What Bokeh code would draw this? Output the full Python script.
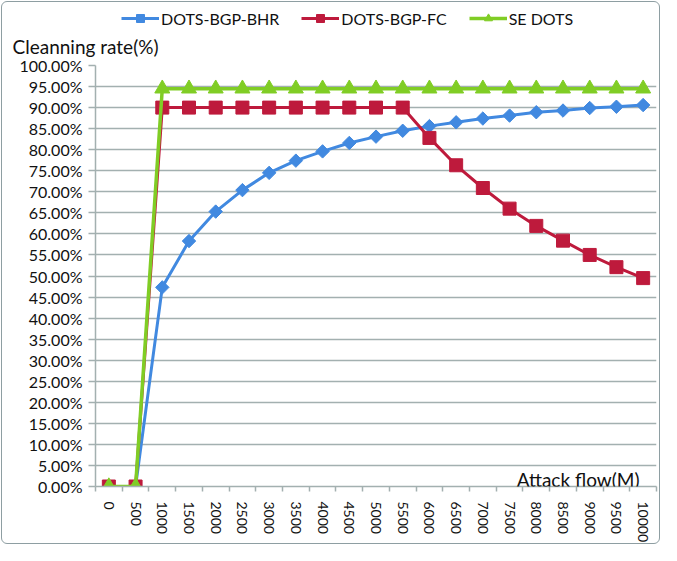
import numpy as np
from bokeh.plotting import figure
from bokeh.layouts import column
from bokeh.models import (ColumnDataSource, FixedTicker, NumeralTickFormatter, Legend,
                          LegendItem, Label, Title, Range1d)
from bokeh.embed import file_html
from bokeh.resources import INLINE

categories = ["0", "500", "1000", "1500", "2000", "2500", "3000", "3500", "4000", "4500",
              "5000", "5500", "6000", "6500", "7000", "7500", "8000", "8500", "9000",
              "9500", "10000"]
bhr = [0.0, 0.0, 0.473, 0.583, 0.653, 0.704, 0.745, 0.774, 0.796, 0.816, 0.831,
       0.845, 0.856, 0.865, 0.874, 0.881, 0.889, 0.893, 0.899, 0.902, 0.906]
fc = [0.0, 0.0, 0.90, 0.90, 0.90, 0.90, 0.90, 0.90, 0.90, 0.90, 0.90, 0.90,
      0.828, 0.763, 0.709, 0.660, 0.619, 0.584, 0.550, 0.521, 0.495]
se = [0.0, 0.0, 0.945, 0.945, 0.945, 0.945, 0.945, 0.945, 0.945, 0.945, 0.945,
      0.945, 0.945, 0.945, 0.945, 0.945, 0.945, 0.945, 0.945, 0.945, 0.945]
series_names = ["DOTS-BGP-BHR", "DOTS-BGP-FC", "SE DOTS"]
y_ticks = [i / 20 for i in range(21)]

FONT = "Lato"
BLUE = "#4189E0"
RED = "#BE1A3C"
GREEN = "#80CD25"
GRID = "#A3B0B0"
TEXT = "#111111"
W = 661
TOP_H = 28
MAIN_H = 517

xs = list(range(len(categories)))
src = ColumnDataSource(dict(x=xs, bhr=bhr, fc=fc, se=se))

styles = [
    dict(line=dict(line_color=BLUE, line_width=3),
         marker=dict(marker="square", angle=np.pi / 4, size=9.5, fill_color=BLUE, line_color=BLUE)),
    dict(line=dict(line_color=RED, line_width=3),
         marker=dict(marker="square", size=13, fill_color=RED, line_color=RED)),
    dict(line=dict(line_color=GREEN, line_width=3.5),
         marker=dict(marker="triangle", size=15, fill_color=GREEN, line_color=GREEN)),
]

# ---------------- legend strip ----------------
top = figure(width=W, height=TOP_H, output_backend="svg", toolbar_location=None,
             x_range=Range1d(0, 1), y_range=Range1d(0, 1),
             x_axis_location=None, y_axis_location=None, min_border=0)
top.grid.visible = False
top.outline_line_color = None
top.border_fill_color = None
top.background_fill_color = None
key_src = ColumnDataSource(dict(x=[np.nan], y=[np.nan]))
items = []
for name, st in zip(series_names, styles):
    lr = top.line("x", "y", source=key_src, **st["line"])
    mr = top.scatter("x", "y", source=key_src, **st["marker"])
    items.append(LegendItem(label=name, renderers=[lr, mr]))
legend = Legend(items=items, orientation="horizontal", location=(26, 0),
                glyph_width=38, glyph_height=20, label_standoff=2, spacing=22,
                padding=0, margin=0, border_line_color=None, background_fill_alpha=0,
                label_text_font=FONT, label_text_font_size="16px",
                label_text_color=TEXT)
top.add_layout(legend)

# ---------------- main chart ----------------
p = figure(width=W, height=MAIN_H, output_backend="svg", toolbar_location=None,
           x_range=Range1d(-0.5, len(categories) - 0.5), y_range=Range1d(0, 1.0),
           min_border_left=95, min_border_right=5, min_border_top=37, min_border_bottom=55)
p.outline_line_color = None
p.background_fill_color = None
p.border_fill_color = None

p.add_layout(Title(text="Cleanning rate(%)", align="left", offset=-83, standoff=12,
                   vertical_align="top", text_font=FONT, text_font_size="19px",
                   text_font_style="normal", text_color=TEXT), "above")

p.xaxis.ticker = FixedTicker(ticks=xs, minor_ticks=[i - 0.5 for i in range(len(categories) + 1)])
p.xaxis.major_label_overrides = {i: c for i, c in enumerate(categories)}
p.xaxis.major_label_orientation = "vertical"
p.xaxis.major_tick_line_color = None
p.xaxis.major_tick_out = 0
p.xaxis.major_tick_in = 0
p.xaxis.minor_tick_out = 5
p.xaxis.minor_tick_in = 0
p.xaxis.minor_tick_line_color = GRID
p.xaxis.minor_tick_line_width = 1.5
p.xaxis.major_label_standoff = 10
p.xaxis.major_label_text_font_size = "14px"

p.yaxis.ticker = FixedTicker(ticks=y_ticks, minor_ticks=[])
p.yaxis.formatter = NumeralTickFormatter(format="0.00%")
p.yaxis.major_tick_out = 7
p.yaxis.major_tick_in = 0
p.yaxis.major_tick_line_color = GRID
p.yaxis.major_tick_line_width = 1.5
p.yaxis.major_label_standoff = 6
p.yaxis.major_label_text_font_size = "16px"

for ax in (p.xaxis, p.yaxis):
    ax.axis_line_color = GRID
    ax.axis_line_width = 1.5
    ax.major_label_text_font = FONT
    ax.major_label_text_color = TEXT

p.xgrid.grid_line_color = None
p.ygrid.ticker = FixedTicker(ticks=y_ticks)
p.ygrid.grid_line_color = GRID
p.ygrid.grid_line_width = 1.5

for col, st in zip(["bhr", "fc", "se"], styles):
    p.line("x", col, source=src, **st["line"])
    p.scatter("x", col, source=src, **st["marker"])

p.add_layout(Label(x=544, y=7, x_units="screen", y_units="screen",
                   text="Attack flow(M)", text_font=FONT, text_font_size="19px",
                   text_color=TEXT, text_baseline="alphabetic", text_align="right"))

layout = column(top, p, spacing=0)
layout.styles = {"outline": "1.5px solid #8E9EA2", "outline-offset": "-2px",
                 "border-radius": "7px", "background-color": "white"}
open("out.html", "w").write(file_html(layout, INLINE))
